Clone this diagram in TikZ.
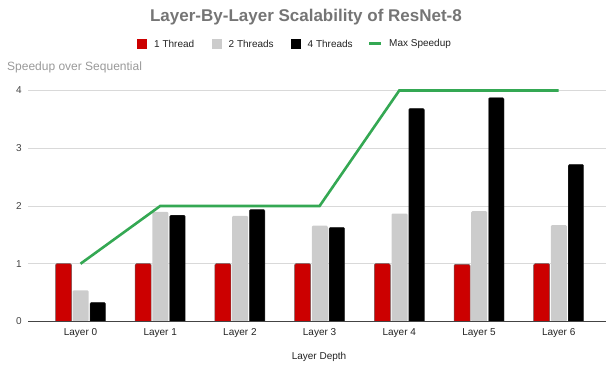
\documentclass[tikz,border=0pt]{standalone}
\usepackage{fontspec}
\setmainfont{Liberation Sans}
\definecolor{redbar}{HTML}{CC0000}
\definecolor{rededge}{HTML}{6F5555}
\definecolor{graybar}{HTML}{CCCCCC}
\definecolor{blackbar}{HTML}{000000}
\definecolor{linegreen}{HTML}{34A853}
\definecolor{titlegray}{HTML}{757575}
\definecolor{gridgray}{HTML}{D9D9D9}
\definecolor{axistitle}{HTML}{999999}
\definecolor{ticktext}{HTML}{444444}
\definecolor{legtext}{HTML}{222222}
\tikzset{
  gridline/.style={draw=gridgray, line width=0.8pt},
  zeroline/.style={draw=ticktext, line width=0.8pt},
  ticklabel/.style={text=ticktext, font=\fontsize{10}{12}\selectfont, inner sep=0pt},
  legendtext/.style={text=legtext, font=\fontsize{10}{12}\selectfont, inner sep=0pt, anchor=west},
  swatch/.style={minimum width=10pt, minimum height=10pt, inner sep=0pt},
  maxline/.style={draw=linegreen, line width=2.6pt},
  redstyle/.style={fill=redbar, draw=rededge, line width=0.5pt, rounded corners=1.2pt},
  graystyle/.style={fill=graybar, rounded corners=1.2pt},
  blackstyle/.style={fill=blackbar, draw=blackbar!80!white, line width=0.4pt, rounded corners=1.2pt},
}
\begin{document}
\begin{tikzpicture}[x=1pt,y=1pt]
\useasboundingbox (0,0) rectangle (608,369);
% title
\node[text=titlegray, font=\fontsize{17}{20}\selectfont\bfseries, inner sep=0pt] (title) at (306,352) {Layer-By-Layer Scalability of ResNet-8};
% legend
\node[swatch, fill=redbar] (sw1) at (142,325) {};
\node[legendtext] (lg1) at (154,325) {1 Thread};
\node[swatch, fill=graybar] (sw2) at (216.5,325) {};
\node[legendtext] (lg2) at (228.5,325) {2 Threads};
\node[swatch, fill=blackbar] (sw3) at (295.5,325) {};
\node[legendtext] (lg3) at (307.5,325) {4 Threads};
\coordinate (sw4a) at (369,325);
\coordinate (sw4b) at (381,325);
\draw[draw=linegreen, line width=3pt] (sw4a) -- (sw4b);
\node[legendtext] (lg4) at (389,325) {Max Speedup};
% axis title
\node[text=axistitle, font=\fontsize{12}{14}\selectfont, inner sep=0pt, anchor=west] (ytitle) at (7,302) {Speedup over Sequential};
% grid
\foreach \v in {1,2,3,4} {
  \coordinate (gl\v) at (28,{47.5+57.75*\v});
  \coordinate (gr\v) at (606,{47.5+57.75*\v});
  \draw[gridline] (gl\v) -- (gr\v);
  \node[ticklabel, anchor=east] (yt\v) at (22,{47.5+57.75*\v}) {\v};
}
\node[ticklabel, anchor=east] (yt0) at (22,47.5) {0};
% bars
\foreach \i/\a/\b/\c in {0/1/0.54/0.33, 1/1/1.9/1.84, 2/1/1.83/1.94, 3/1/1.66/1.63, 4/1/1.87/3.69, 5/0.99/1.91/3.875, 6/1/1.67/2.72} {
  \pgfmathsetmacro\cx{80.5+79.7*\i}
  \path[redstyle] ({\cx-25},47.5) -- ({\cx-25},{47.5+57.75*\a}) -- ({\cx-9},{47.5+57.75*\a}) -- ({\cx-9},47.5);
  \path[graystyle] ({\cx-7.8},47.5) -- ({\cx-7.8},{47.5+57.75*\b}) -- ({\cx+8.2},{47.5+57.75*\b}) -- ({\cx+8.2},47.5) -- cycle;
  \path[blackstyle] ({\cx+9.5},47.5) -- ({\cx+9.5},{47.5+57.75*\c}) -- ({\cx+25},{47.5+57.75*\c}) -- ({\cx+25},47.5);
  \node[ticklabel, text=legtext] (xl\i) at (\cx,36) {Layer \i};
  \coordinate (m\i) at (\cx,0);
}
% zero line
\coordinate (zl) at (28,47.5);
\coordinate (zr) at (606,47.5);
\draw[zeroline] (zl) -- (zr);
% max speedup line
\foreach \i/\v in {0/1,1/2,2/2,3/2,4/4,5/4,6/4} {
  \coordinate (p\i) at (m\i |- 0,{47.5+57.75*\v});
}
\draw[maxline, line join=miter] (p0) -- (p1) -- (p2) -- (p3) -- (p4) -- (p5) -- (p6);
% x axis title
\node[text=legtext, font=\fontsize{10}{12}\selectfont, inner sep=0pt] (xtitle) at (319,12) {Layer Depth};
\end{tikzpicture}
\end{document}
